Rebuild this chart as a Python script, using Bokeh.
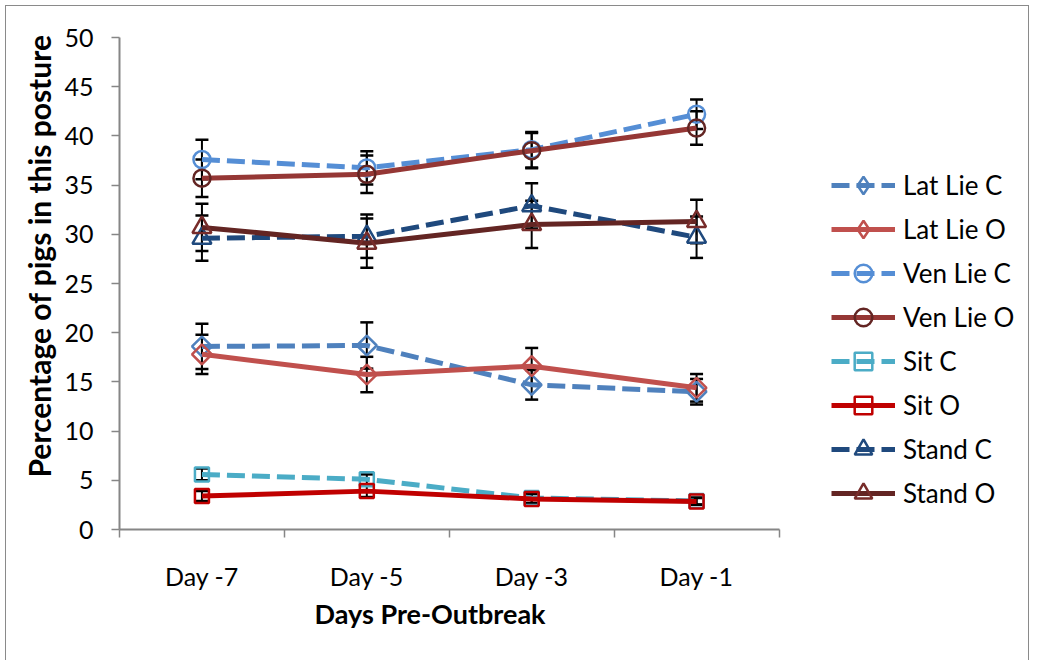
import numpy as np
from bokeh.plotting import figure
from bokeh.models import (ColumnDataSource, Whisker, TeeHead, Legend, LegendItem,
                          FixedTicker, Range1d, Title)
from bokeh.embed import file_html
from bokeh.resources import INLINE

# ---------------- data ----------------
days = ["Day -7", "Day -5", "Day -3", "Day -1"]

series_names = ["Lat Lie C", "Lat Lie O", "Ven Lie C", "Ven Lie O",
                "Sit C", "Sit O", "Stand C", "Stand O"]

lat_lie_c = [18.6, 18.7, 14.7, 14.0]
lat_lie_c_err = [2.3, 2.35, 1.5, 1.3]
lat_lie_o = [17.8, 15.75, 16.6, 14.4]
lat_lie_o_err = [2.0, 1.8, 1.85, 1.4]
ven_lie_c = [37.6, 36.75, 38.6, 42.2]
ven_lie_c_err = [2.0, 1.7, 1.8, 1.5]
ven_lie_o = [35.7, 36.1, 38.5, 40.8]
ven_lie_o_err = [1.9, 1.9, 1.8, 1.7]
sit_c = [5.6, 5.1, 3.2, 2.9]
sit_c_err = [0.6, 0.5, 0.5, 0.35]
sit_o = [3.4, 3.9, 3.1, 2.85]
sit_o_err = [0.5, 0.6, 0.5, 0.35]
stand_c = [29.6, 29.8, 32.9, 29.7]
stand_c_err = [2.3, 2.2, 2.3, 2.1]
stand_o = [30.7, 29.1, 31.0, 31.3]
stand_o_err = [2.4, 2.5, 2.4, 2.2]

y_ticks = [0, 5, 10, 15, 20, 25, 30, 35, 40, 45, 50]

FONT = "Lato"

# ---------------- styles ----------------
styles = {
    "Lat Lie C": dict(line="#4F81BD", marker="#4F81BD", dash="18 7", shape="square", size=14, angle=np.pi / 4, legend_shape="diamond"),
    "Lat Lie O": dict(line="#C0504D", marker="#C0504D", dash="solid", shape="square", size=14, angle=np.pi / 4, legend_shape="diamond"),
    "Ven Lie C": dict(line="#558ED5", marker="#558ED5", dash="18 7", shape="circle", size=17, angle=0, legend_shape=None),
    "Ven Lie O": dict(line="#953735", marker="#632523", dash="solid", shape="circle", size=17, angle=0, legend_shape=None),
    "Sit C": dict(line="#4BACC6", marker="#4BACC6", dash="18 7", shape="square", size=14, angle=0, legend_shape=None),
    "Sit O": dict(line="#C00000", marker="#C00000", dash="solid", shape="square", size=14, angle=0, legend_shape=None),
    "Stand C": dict(line="#1F497D", marker="#1F497D", dash="18 7", shape="triangle", size=19, angle=0, legend_shape=None),
    "Stand O": dict(line="#632523", marker="#772C2A", dash="solid", shape="triangle", size=19, angle=0, legend_shape=None),
}

values = {
    "Lat Lie C": (lat_lie_c, lat_lie_c_err),
    "Lat Lie O": (lat_lie_o, lat_lie_o_err),
    "Ven Lie C": (ven_lie_c, ven_lie_c_err),
    "Ven Lie O": (ven_lie_o, ven_lie_o_err),
    "Sit C": (sit_c, sit_c_err),
    "Sit O": (sit_o, sit_o_err),
    "Stand C": (stand_c, stand_c_err),
    "Stand O": (stand_o, stand_o_err),
}

x_pos = [i + 0.5 for i in range(len(days))]

# layout geometry (pixels)
W, H = 1024, 655
BL, BT, BB, BR = 113, 31, 132, 5
FRAME_W = W - BL - BR
AXIS_SPAN_PX = 659.5          # length of the category axis inside the frame
x_end = len(days) * FRAME_W / AXIS_SPAN_PX   # frame extends right to hold the legend

p = figure(width=W, height=H, output_backend="svg", toolbar_location=None,
           x_range=Range1d(0, x_end), y_range=Range1d(0, 50),
           min_border_left=BL, min_border_top=BT, min_border_bottom=BB,
           min_border_right=BR)
p.background_fill_color = "white"
p.border_fill_color = "white"
p.outline_line_color = None
p.xgrid.visible = False
p.ygrid.visible = False
p.styles = {"border-left": "1.5px solid #8a8a8a",
            "border-top": "1.5px solid #8a8a8a",
            "border-right": "1.5px solid #8a8a8a",
            "margin-left": "5px", "margin-top": "5px"}

legend_items = []
whisker_sources = []
for name in series_names:
    vals, errs = values[name]
    st = styles[name]
    src = ColumnDataSource(dict(
        x=x_pos, y=vals,
        lower=[v - e for v, e in zip(vals, errs)],
        upper=[v + e for v, e in zip(vals, errs)],
    ))
    ln = p.line("x", "y", source=src, line_color=st["line"], line_width=5,
                line_dash=st["dash"])
    mk = p.scatter("x", "y", source=src, marker=st["shape"], size=st["size"],
                   angle=st["angle"], fill_color=None, line_color=st["marker"],
                   line_width=2.5)
    leg_mk = mk
    if st["legend_shape"]:
        # legend swatch (the legend does not rotate markers)
        leg_mk = p.scatter("x", "y", source=src, marker=st["legend_shape"],
                           size=24, fill_color=None,
                           line_color=st["marker"], line_width=2.5,
                           visible=False)
    legend_items.append(LegendItem(label=name, renderers=[ln, leg_mk]))
    whisker_sources.append(src)

for src in whisker_sources:
    w = Whisker(base="x", lower="lower", upper="upper", source=src,
                line_color="black", line_width=2,
                upper_head=TeeHead(size=13, line_color="black", line_width=2.5),
                lower_head=TeeHead(size=13, line_color="black", line_width=2.5))
    p.add_layout(w)

# ---------------- axes ----------------
xa = p.xaxis[0]
xa.bounds = (0, len(days))
xa.ticker = FixedTicker(ticks=x_pos, minor_ticks=list(range(len(days) + 1)))
xa.major_label_overrides = {x: d for x, d in zip(x_pos, days)}
xa.major_tick_out = 0
xa.major_tick_in = 0
xa.minor_tick_out = 8
xa.minor_tick_in = 0
xa.minor_tick_line_color = "#868686"
xa.minor_tick_line_width = 1.5
xa.axis_line_color = "#868686"
xa.axis_line_width = 2
xa.major_label_text_font = FONT
xa.major_label_text_font_size = "25px"
xa.major_label_text_color = "black"
xa.major_label_standoff = 23

ya = p.yaxis[0]
ya.ticker = FixedTicker(ticks=y_ticks, minor_ticks=[])
ya.major_tick_out = 8
ya.major_tick_in = 0
ya.major_tick_line_color = "#868686"
ya.major_tick_line_width = 1.5
ya.axis_line_color = "#868686"
ya.axis_line_width = 2
ya.major_label_text_font = FONT
ya.major_label_text_font_size = "25px"
ya.major_label_text_color = "black"
ya.major_label_standoff = 18

# axis titles (Titles so that they can sit off-centre, as in the reference)
xt = Title(text="Days Pre-Outbreak", align="left", offset=195, standoff=3,
           text_font=FONT, text_font_style="bold", text_font_size="27px",
           text_color="black")
p.add_layout(xt, "below")
yt = Title(text="Percentage of pigs in this posture", align="left", offset=52,
           standoff=9, text_font=FONT, text_font_style="bold",
           text_font_size="30px", text_color="black")
p.add_layout(yt, "left")

# ---------------- legend ----------------
legend = Legend(items=legend_items, location=(712, 14), orientation="vertical",
                glyph_width=64, glyph_height=44, label_height=44,
                spacing=0, padding=0, margin=0, label_standoff=8,
                label_text_font=FONT, label_text_font_size="26px",
                label_text_color="black",
                border_line_color=None, background_fill_alpha=0)
p.add_layout(legend, "center")

open("out.html", "w").write(file_html(p, INLINE))
